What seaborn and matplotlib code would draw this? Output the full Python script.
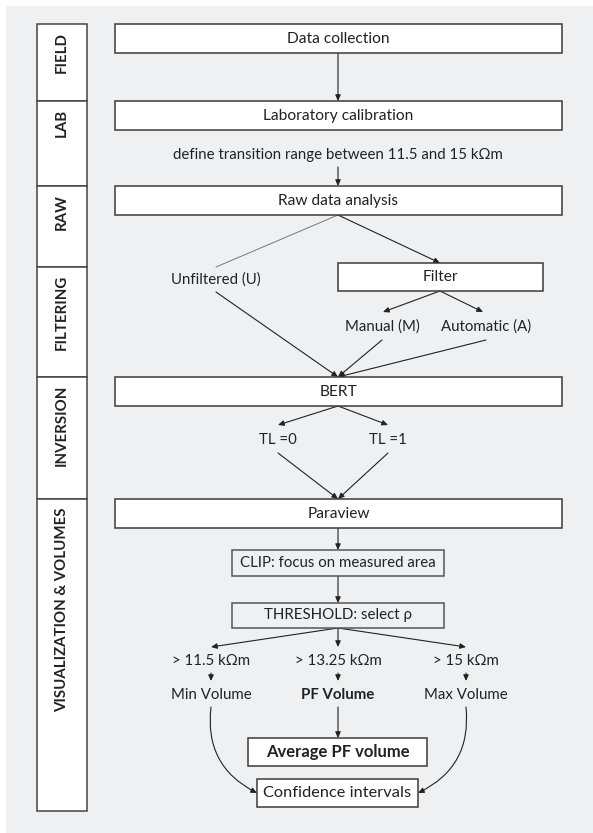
import matplotlib.pyplot as plt
from matplotlib.patches import Rectangle, FancyArrowPatch
import seaborn as sns

sns.set_style("white")
plt.rcParams["font.family"] = ["Lato", "DejaVu Sans"]

# lanes (label, top, bottom) in pixel rows
lane_names = ['FIELD', 'LAB', 'RAW', 'FILTERING', 'INVERSION', 'VISUALIZATION & VOLUMES']
lane_edges = [24, 101, 186, 267, 377, 499, 811]

# wide process boxes
main_labels = ['Data collection', 'Laboratory calibration', 'Raw data analysis', 'BERT', 'Paraview']
main_tops = [24, 101, 186, 377, 499]

note_text = 'define transition range between 11.5 and 15 k\u03a9m'
filter_labels = ['Unfiltered (U)', 'Filter', 'Manual (M)', 'Automatic (A)']
tl_labels = ['TL =0', 'TL =1']
step_labels = ['CLIP: focus on measured area', 'THRESHOLD: select \u03c1']
thresholds = ['> 11.5 k\u03a9m', '> 13.25 k\u03a9m', '> 15 k\u03a9m']
volumes = ['Min Volume', 'PF Volume', 'Max Volume']
final_labels = ['Average PF volume', 'Confidence intervals']

BG = '#eff0f2'
EDGE = '#3a3a3a'
FS = 10.8

fig = plt.figure(figsize=(5.93, 8.33), dpi=100)
ax = fig.add_axes([0, 0, 1, 1])
ax.set_xlim(0, 593)
ax.set_ylim(833, 0)
ax.axis('off')

ax.add_patch(Rectangle((6, 6), 600, 840, facecolor=BG, edgecolor='none', zorder=0))


def box(x0, y0, x1, y1, text, fc='white', ec=EDGE, bold=False, fs=FS):
    ax.add_patch(Rectangle((x0, y0), x1 - x0, y1 - y0, facecolor=fc,
                           edgecolor=ec, linewidth=1.1, zorder=2))
    ax.text((x0 + x1) / 2, (y0 + y1) / 2, text, ha='center', va='center',
            fontsize=fs, color='#222222', fontweight='bold' if bold else 'normal', zorder=3)


def arrow(p0, p1, rad=0.0, head=True, color='#222222', lw=0.8):
    style = '-|>,head_length=3.5,head_width=1.6' if head else '-'
    ax.add_patch(FancyArrowPatch(p0, p1, arrowstyle=style, color=color, lw=lw,
                                 shrinkA=0, shrinkB=0,
                                 connectionstyle='arc3,rad=%s' % rad, zorder=1.5))


def label(x, y, text, bold=False):
    ax.text(x, y, text, ha='center', va='center', fontsize=FS, color='#222222',
            fontweight='bold' if bold else 'normal', zorder=3)


# lane column
for name, top, bot in zip(lane_names, lane_edges[:-1], lane_edges[1:]):
    ax.add_patch(Rectangle((37, top), 50, bot - top, facecolor='white',
                           edgecolor='#444444', linewidth=1.1, zorder=2))
    ax.text(62, top + 8, name, rotation=90, ha='center', va='top', fontsize=10.8,
            fontweight='bold', color='#222222', zorder=3)

# main boxes
cx = 338
for text, top in zip(main_labels, main_tops):
    box(115, top, 562, top + 29, text, fs=11.2)

arrow((cx, 53), (cx, 101))
label(cx, 155, note_text)
arrow((cx, 167), (cx, 186))

# filtering branch
arrow((cx, 215), (216, 267), head=False, color='#777777', lw=0.7)
label(216, 280, filter_labels[0])
arrow((cx, 215), (440, 263))
box(338, 263, 543, 291, filter_labels[1], fs=11.2)
arrow((440, 291), (383, 312))
arrow((440, 291), (483, 312))
label(382, 327, filter_labels[2])
label(486, 327, filter_labels[3])
arrow((216, 292), (cx, 377))
arrow((382, 340), (cx, 377))
arrow((486, 340), (cx, 377))

# inversion
arrow((cx, 406), (278, 425))
arrow((cx, 406), (388, 425))
label(278, 440, tl_labels[0])
label(388, 440, tl_labels[1])
arrow((278, 453), (cx, 499))
arrow((388, 453), (cx, 499))

# visualization
arrow((cx, 528), (cx, 550))
box(232, 550, 444, 576, step_labels[0], fc=BG, ec='#555555')
arrow((cx, 576), (cx, 603))
box(232, 603, 444, 628, step_labels[1], fc=BG, ec='#555555')

xs = [211, 338, 466]
for x, t, v in zip(xs, thresholds, volumes):
    arrow((cx, 628), (x, 647))
    label(x, 661, t)
    arrow((x, 673), (x, 681))
    label(x, 695, v, bold=(v == 'PF Volume'))

arrow((cx, 707), (cx, 738))
box(248, 738, 427, 766, final_labels[0], bold=True, fs=12)
box(257, 779, 418, 807, final_labels[1], fs=11.8)
arrow((211, 707), (257, 793), rad=0.35)
arrow((466, 707), (418, 793), rad=-0.35)

plt.savefig('out.png', dpi=100)
